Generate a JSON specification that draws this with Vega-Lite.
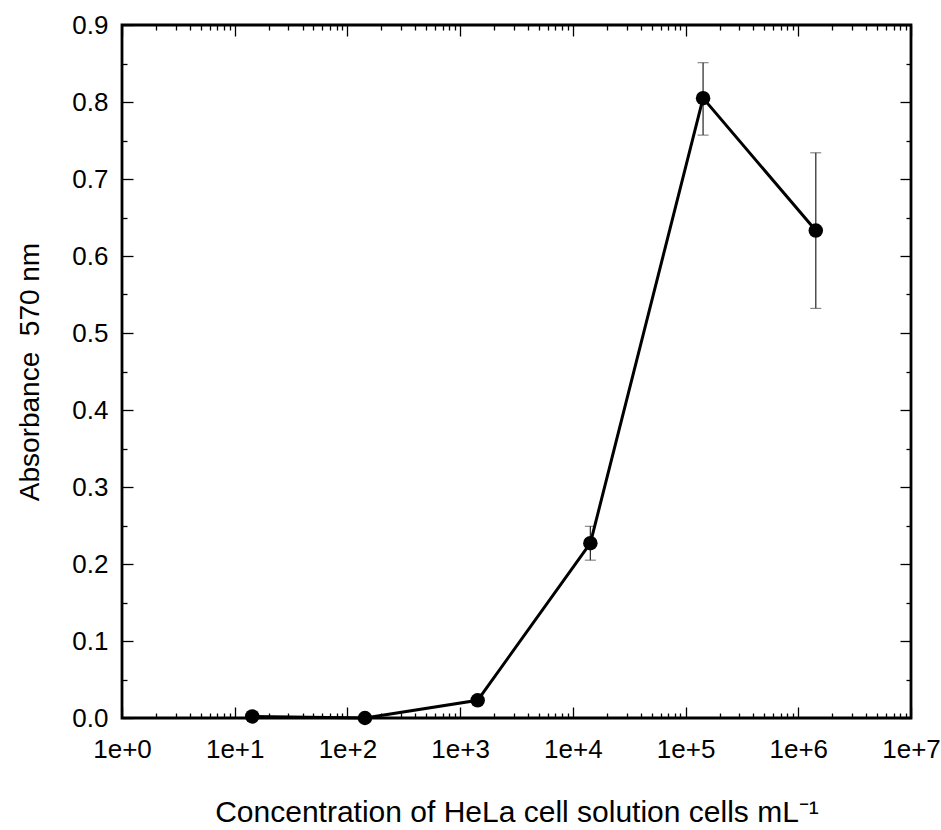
{
  "$schema": "https://vega.github.io/schema/vega-lite/v6.json",
  "width": 789,
  "height": 693,
  "autosize": "none",
  "padding": {"left": 122, "top": 25, "right": 30, "bottom": 112},
  "background": "white",
  "config": {
    "view": {"stroke": "black", "strokeWidth": 2.8},
    "axis": {
      "grid": false,
      "domain": false,
      "labelFont": "Liberation Sans",
      "titleFont": "Liberation Sans",
      "titleFontWeight": "normal",
      "labelColor": "black",
      "titleColor": "black",
      "tickColor": "black",
      "tickWidth": 1.3
    }
  },
  "data": {
    "values": [
      {"conc": 14.3, "abs": 0.002, "low": null, "high": null},
      {"conc": 143, "abs": 0.0, "low": null, "high": null},
      {"conc": 1430, "abs": 0.023, "low": null, "high": null},
      {"conc": 14300, "abs": 0.227, "low": 0.205, "high": 0.249},
      {"conc": 143000, "abs": 0.805, "low": 0.757, "high": 0.851},
      {"conc": 1430000, "abs": 0.633, "low": 0.532, "high": 0.734}
    ]
  },
  "resolve": {"axis": {"x": "independent", "y": "independent"}},
  "layer": [
    {
      "transform": [{"filter": "datum.low != null"}],
      "mark": {"type": "errorbar", "ticks": {"size": 11, "color": "#333", "strokeWidth": 1.3}, "rule": {"color": "#333", "strokeWidth": 1.3}},
      "encoding": {
        "x": {"field": "conc", "type": "quantitative", "scale": {"type": "log", "domain": [1, 10000000], "nice": false}, "axis": null},
        "y": {"field": "low", "type": "quantitative", "scale": {"domain": [0, 0.9], "nice": false, "zero": false}, "axis": null},
        "y2": {"field": "high"}
      }
    },
    {
      "mark": {"type": "line", "color": "black", "strokeWidth": 3},
      "encoding": {
        "x": {
          "field": "conc", "type": "quantitative",
          "scale": {"type": "log", "domain": [1, 10000000], "nice": false},
          "axis": {
            "orient": "bottom",
            "title": "Concentration of HeLa cell solution cells mL⁻¹",
            "titleFontSize": 30,
            "titlePadding": 29,
            "labelFontSize": 26,
            "values": [1,2,3,4,5,6,7,8,9,10,20,30,40,50,60,70,80,90,100,200,300,400,500,600,700,800,900,1000,2000,3000,4000,5000,6000,7000,8000,9000,10000,20000,30000,40000,50000,60000,70000,80000,90000,100000,200000,300000,400000,500000,600000,700000,800000,900000,1000000,2000000,3000000,4000000,5000000,6000000,7000000,8000000,9000000,10000000],
            "labelExpr": "abs(log(datum.value)/LN10 - round(log(datum.value)/LN10)) < 1e-6 ? '1e+' + round(log(datum.value)/LN10) : ''",
            "labelOverlap": false,
            "labelFlush": false,
            "tickSize": {"condition": {"test": "abs(log(datum.value)/LN10 - round(log(datum.value)/LN10)) < 1e-6", "value": -11}, "value": -5},
            "labelPadding": 29
          }
        },
        "y": {
          "field": "abs", "type": "quantitative",
          "scale": {"domain": [0, 0.9], "nice": false, "zero": false},
          "axis": {
            "orient": "left",
            "title": "Absorbance\u00a0\u00a0570 nm",
            "titleFontSize": 28,
            "titlePadding": 27,
            "labelFontSize": 26,
            "values": [0,0.05,0.1,0.15,0.2,0.25,0.3,0.35,0.4,0.45,0.5,0.55,0.6,0.65,0.7,0.75,0.8,0.85,0.9],
            "labelExpr": "abs(datum.value*10 - round(datum.value*10)) < 1e-6 ? format(datum.value, '.1f') : ''",
            "labelOverlap": false,
            "labelFlush": false,
            "tickSize": {"condition": {"test": "abs(datum.value*10 - round(datum.value*10)) < 1e-6", "value": -11}, "value": -5},
            "labelPadding": 25
          }
        }
      }
    },
    {
      "mark": {"type": "point", "filled": true, "color": "black", "opacity": 1, "size": 210},
      "encoding": {
        "x": {
          "field": "conc", "type": "quantitative",
          "scale": {"type": "log", "domain": [1, 10000000], "nice": false},
          "axis": {
            "orient": "top",
            "title": null,
            "labels": false,
            "values": [1,2,3,4,5,6,7,8,9,10,20,30,40,50,60,70,80,90,100,200,300,400,500,600,700,800,900,1000,2000,3000,4000,5000,6000,7000,8000,9000,10000,20000,30000,40000,50000,60000,70000,80000,90000,100000,200000,300000,400000,500000,600000,700000,800000,900000,1000000,2000000,3000000,4000000,5000000,6000000,7000000,8000000,9000000,10000000],
            "tickSize": {"condition": {"test": "abs(log(datum.value)/LN10 - round(log(datum.value)/LN10)) < 1e-6", "value": -11}, "value": -5}
          }
        },
        "y": {
          "field": "abs", "type": "quantitative",
          "scale": {"domain": [0, 0.9], "nice": false, "zero": false},
          "axis": {
            "orient": "right",
            "title": null,
            "labels": false,
            "values": [0,0.05,0.1,0.15,0.2,0.25,0.3,0.35,0.4,0.45,0.5,0.55,0.6,0.65,0.7,0.75,0.8,0.85,0.9],
            "tickSize": {"condition": {"test": "abs(datum.value*10 - round(datum.value*10)) < 1e-6", "value": -11}, "value": -5}
          }
        }
      }
    }
  ]
}
